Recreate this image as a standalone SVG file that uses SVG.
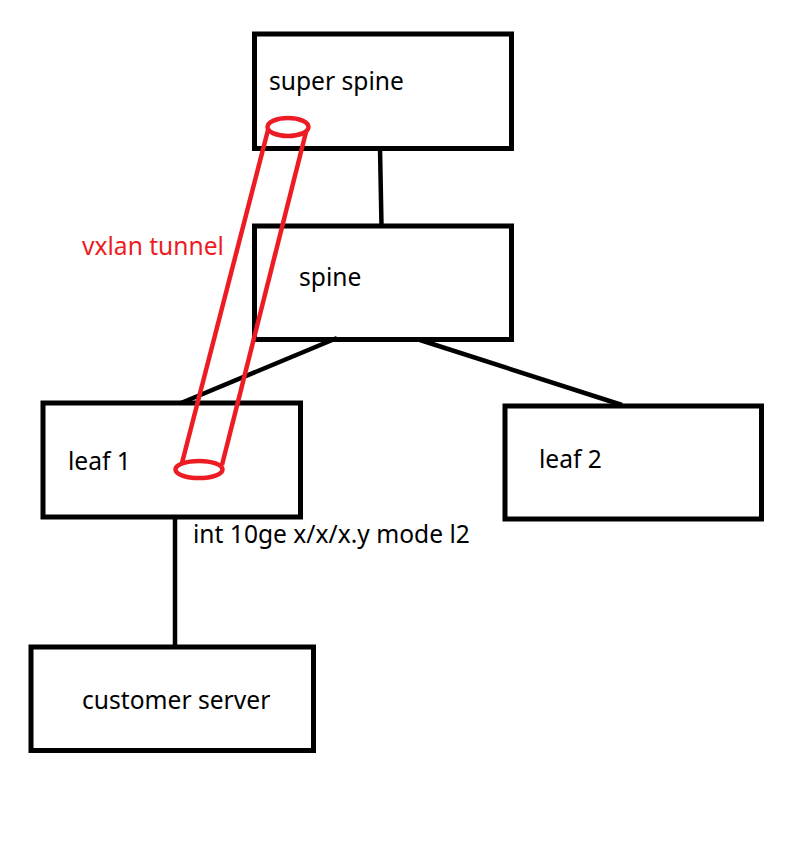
<svg xmlns="http://www.w3.org/2000/svg" width="796" height="845" viewBox="0 0 796 845">
<style>
.box{fill:none;stroke:#000;stroke-width:5}
.con{stroke:#000;stroke-width:4.5;fill:none}
.t{font-family:"Noto Sans","Open Sans","DejaVu Sans",sans-serif;font-size:24.6px;fill:#000}
.red{stroke:#ed1c24;stroke-width:4.5;fill:none}
.rt{fill:#ed1c24}
</style>
<rect width="796" height="845" fill="#fff"/>
<g id="connectors">
<line class="con" x1="380" y1="148" x2="381.5" y2="226"/>
<line class="con" x1="337" y1="338" x2="181" y2="403"/>
<line class="con" x1="420" y1="340" x2="622" y2="405"/>
<line class="con" x1="175" y1="517" x2="175" y2="647"/>
</g>
<g id="super-spine">
<rect class="box" x="254.5" y="34" width="257" height="114.5"/>
<text class="t" x="269" y="90">super spine</text>
</g>
<g id="spine">
<rect class="box" x="254.5" y="226" width="257" height="113.5"/>
<text class="t" x="299" y="286">spine</text>
</g>
<g id="leaf-1">
<rect class="box" x="43" y="403" width="257.5" height="114"/>
<text class="t" x="68" y="470">leaf 1</text>
</g>
<g id="leaf-2">
<rect class="box" x="505" y="406" width="256.5" height="113"/>
<text class="t" x="539" y="468">leaf 2</text>
</g>
<g id="customer-server">
<rect class="box" x="31" y="647" width="282.5" height="103.5"/>
<text class="t" x="82" y="709">customer server</text>
</g>
<g id="interface-label">
<text class="t" x="193" y="543">int 10ge x/x/x.y mode l2</text>
</g>
<g id="vxlan-tunnel">
<line class="red" x1="268" y1="130" x2="182" y2="463"/>
<line class="red" x1="306" y1="132" x2="222" y2="465"/>
<ellipse class="red" cx="288" cy="127" rx="20.5" ry="9"/>
<ellipse class="red" cx="199" cy="469.5" rx="23.5" ry="8.5"/>
<text class="t rt" x="82" y="255">vxlan tunnel</text>
</g>
</svg>
